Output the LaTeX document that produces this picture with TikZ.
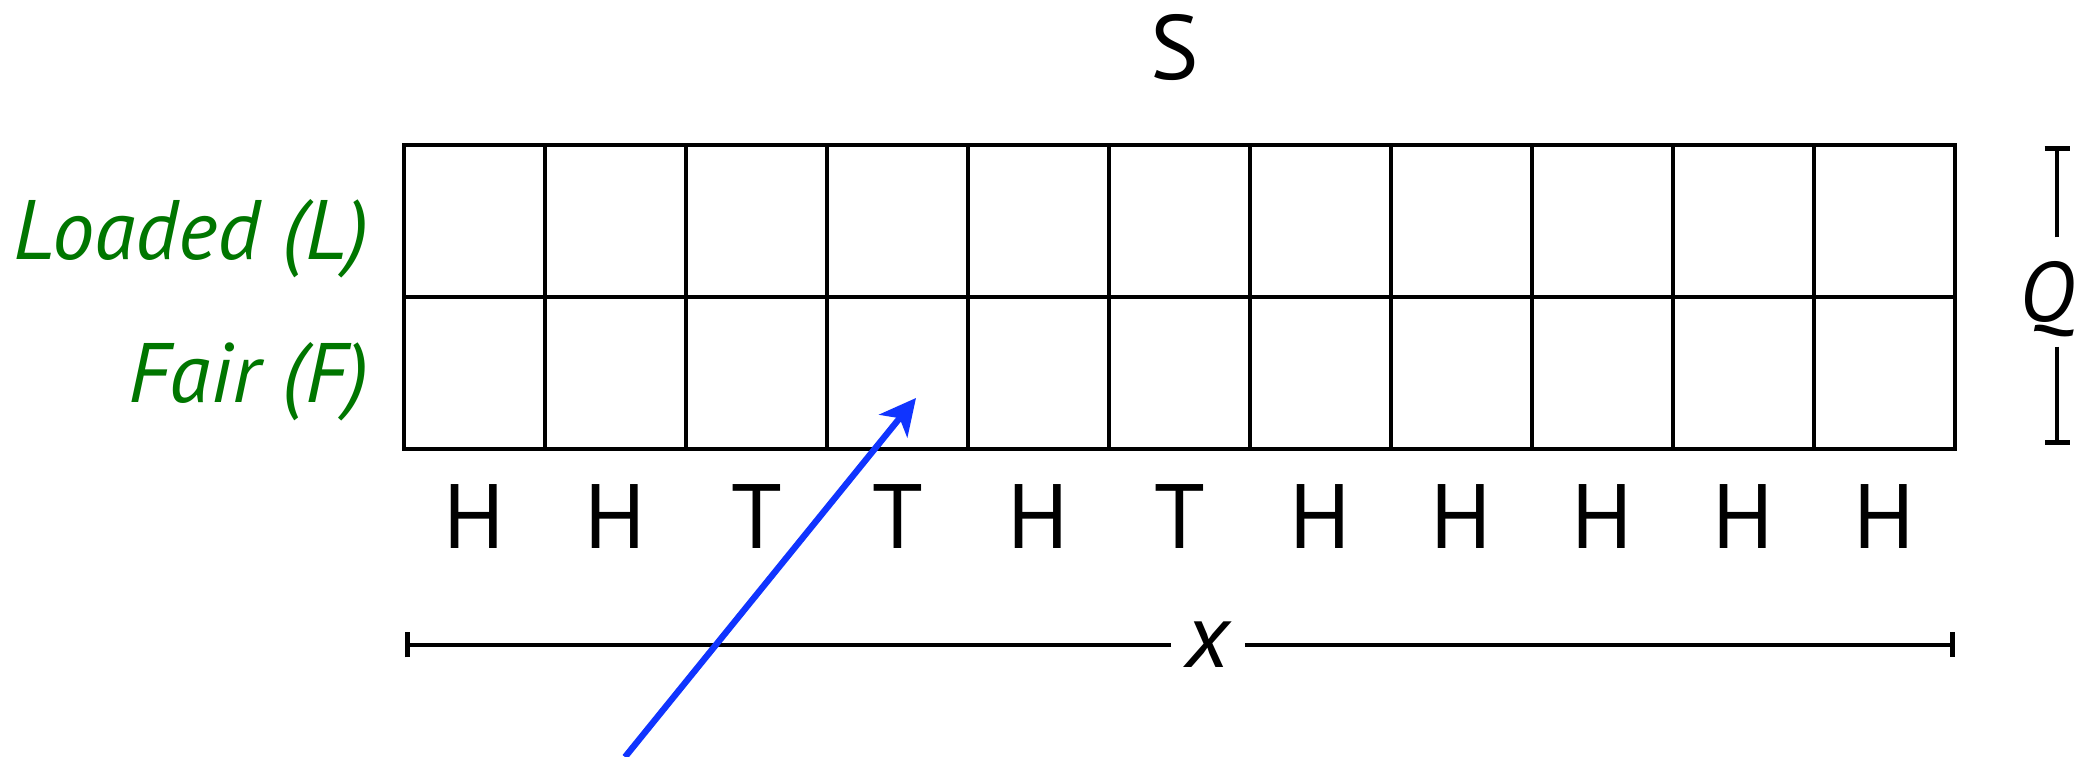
\documentclass[tikz,border=0pt]{standalone}
\usepackage{fontspec}
\setmainfont{PT Sans}
\usetikzlibrary{positioning,arrows.meta}
\definecolor{StateGreen}{RGB}{0,118,0}
\definecolor{PointerBlue}{RGB}{16,52,255}
\tikzset{
  cell/.style={draw,line width=1.35pt,minimum width=1.41cm,minimum height=1.52cm,
    inner sep=0pt,outer sep=0pt},
  rowlabel/.style={font=\fontsize{24}{28}\selectfont\itshape,text=StateGreen,inner sep=0pt},
  coin/.style={font=\fontsize{26}{30}\selectfont,inner sep=0pt},
  varlabel/.style={font=\fontsize{26}{30}\selectfont\itshape,inner sep=0pt},
  dimline/.style={line width=1.35pt,-{Bar[width=0.25cm]}},
  pointer/.style={-{Stealth[length=0.36cm,width=0.36cm,inset=0.1cm]},line width=1.8pt,draw=PointerBlue}
}

\begin{document}
\begin{tikzpicture}
  \useasboundingbox (0,0) rectangle (20.77,-7.57);
  \foreach \i in {1,...,11} {
    \node[cell] (L\i) at ({4.04+1.41*(\i-0.5)},-2.21) {};
    \node[cell,below=0pt of L\i] (F\i) {};
  }
  \foreach \s [count=\i] in {H,H,T,T,H,T,H,H,H,H,H}
    \node[coin,anchor=base] (o\i) at ([yshift=-1.00cm]F\i.south) {\s};
  \node[coin,anchor=base] (S) at (11.75,-0.80) {S};
  \node[rowlabel,anchor=base east] (lblL) at (3.70,-2.60) {Loaded (L)};
  \node[rowlabel,anchor=base east] (lblF) at (3.70,-4.03) {Fair (F)};
  \node[varlabel,font=\fontsize{24}{28}\selectfont\itshape,text height=0.6cm,text depth=0pt,
    inner xsep=0pt,inner ysep=0.24cm] (Q) at (20.47,-2.92) {Q};
  \coordinate (qtop) at (20.57,-1.46);
  \coordinate (qbot) at (20.57,-4.45);
  \draw[dimline] (Q.north -| qtop) -- (qtop);
  \draw[dimline] (Q.south -| qbot) -- (qbot);
  \node[varlabel,inner xsep=0.14cm] (xlab) at (12.08,-6.45) {x};
  \coordinate (xl) at (4.05,-6.45);
  \coordinate (xr) at (19.55,-6.45);
  \draw[dimline] (xlab) -- (xl);
  \draw[dimline] (xlab) -- (xr);
  \coordinate (start) at (6.25,-7.57);
  \coordinate (tip) at ([xshift=0.185cm,yshift=-0.25cm]F4.center);
  \draw[pointer] (start) -- (tip);
\end{tikzpicture}
\end{document}
